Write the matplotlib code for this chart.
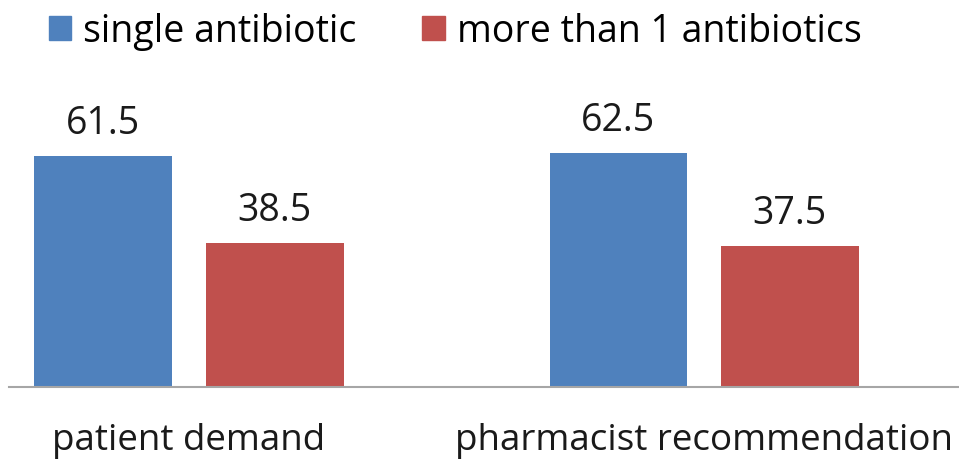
import numpy as np
import matplotlib
matplotlib.use('Agg')
import matplotlib.pyplot as plt
from matplotlib.patches import Patch

plt.rcParams['font.family'] = ['Open Sans', 'DejaVu Sans']

categories = ['patient demand', 'pharmacist recommendation']
series_names = ['single antibiotic', 'more than 1 antibiotics']
single = [61.5, 62.5]
multiple = [38.5, 37.5]
colors = ['#4f81bd', '#c0504d']

fig = plt.figure(figsize=(9.59, 4.6), dpi=100)
# axes placed so that baseline sits at ~388px and groups at ~189px / ~704px
ax = fig.add_axes([9 / 959, (460 - 388) / 460, 950 / 959, 300 / 460])

x = np.arange(len(categories))
w = 0.267
off = 0.1665
b1 = ax.bar(x - off, single, w, color=colors[0], label=series_names[0])
b2 = ax.bar(x + off, multiple, w, color=colors[1], label=series_names[1])

for bars in (b1, b2):
    for r in bars:
        ax.annotate('%.1f' % r.get_height(), xy=(r.get_x() + r.get_width() / 2, r.get_height()),
                    xytext=(0, 10), textcoords='offset points', ha='center', va='bottom',
                    fontsize=27, color='#1a1a1a')

ax.set_xlim(-0.3495, 1.495)
ax.set_ylim(0, 80)
ax.set_xticks(x)
ax.set_xticklabels(categories, fontsize=26.5, color='#1a1a1a')
ax.tick_params(axis='x', length=0, pad=25)
ax.set_yticks([])
for s in ['top', 'right', 'left']:
    ax.spines[s].set_visible(False)
ax.spines['bottom'].set_color('#a6a6a6')
ax.spines['bottom'].set_linewidth(1.5)

handles = [Patch(color=colors[0]), Patch(color=colors[1])]
fig.legend(handles, series_names, loc='upper left', bbox_to_anchor=(0.035, 1.004), ncol=2,
           frameon=False, fontsize=27, handlelength=0.6, handleheight=0.6,
           handletextpad=0.33, columnspacing=1.75, borderaxespad=0)

fig.savefig('out.png', dpi=100)
